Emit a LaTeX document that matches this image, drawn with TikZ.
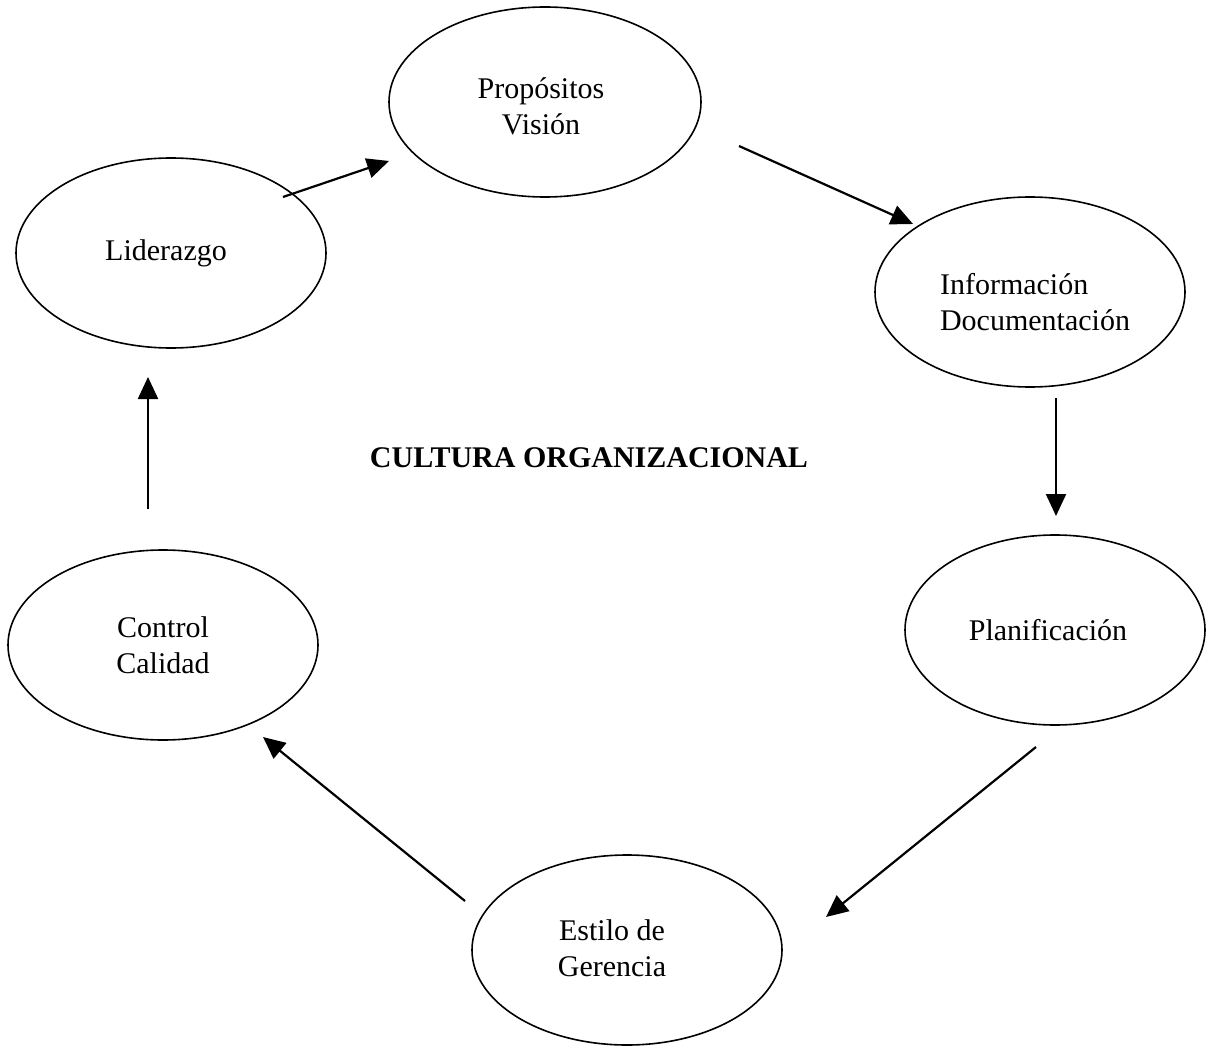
\documentclass[tikz,border=0pt]{standalone}
\usepackage{fontspec}
\setmainfont{Liberation Serif}
\usetikzlibrary{shapes.geometric,arrows.meta}
\begin{document}
\begin{tikzpicture}[x=1pt,y=-1pt,
  oval/.style={draw,ellipse,line width=1.6pt,inner sep=0pt,minimum width=2*#1,minimum height=190},
  lbl/.style={font=\fontsize{30}{36}\selectfont,align=center},
  flow/.style={line width=2.2pt,-{Triangle[length=22pt,width=20pt]}}]
\useasboundingbox (0,0) rectangle (1215,1059);
% the six stages
\node[oval=156] (prop) at (545,102) {};
\node[oval=155] (lid)  at (171,253) {};
\node[oval=155] (info) at (1030,292) {};
\node[oval=150] (plan) at (1055,630) {};
\node[oval=155] (ctrl) at (163,645) {};
\node[oval=155] (est)  at (627,950) {};
% their labels
\node[lbl] (tprop) at (541,106) {Propósitos\\Visión};
\node[lbl] (tlid)  at (166,253) {Liderazgo};
\node[lbl,align=left] (tinfo) at (1035,302) {Información\\Documentación};
\node[lbl] (tplan) at (1048,630) {Planificación};
\node[lbl] (tctrl) at (163,645) {Control\\Calidad};
\node[lbl] (test)  at (612,948) {Estilo de\\Gerencia};
\node[font=\bfseries\fontsize{30}{36}\selectfont] (title) at (589,458) {CULTURA ORGANIZACIONAL};
% loose ends of the connectors
\coordinate (a1) at (283,197);  \coordinate (b1) at (389,161);
\coordinate (a2) at (739,146);  \coordinate (b2) at (913,224);
\coordinate (a3) at (1056,398); \coordinate (b3) at (1056,516);
\coordinate (a4) at (1036,747); \coordinate (b4) at (826,917);
\coordinate (a5) at (465,901);  \coordinate (b5) at (263,737);
\coordinate (a6) at (148,509);  \coordinate (b6) at (148,377);
\draw[flow] (a1) -- (b1);
\draw[flow] (a2) -- (b2);
\draw[flow] (a3) -- (b3);
\draw[flow] (a4) -- (b4);
\draw[flow] (a5) -- (b5);
\draw[flow] (a6) -- (b6);
\end{tikzpicture}
\end{document}
